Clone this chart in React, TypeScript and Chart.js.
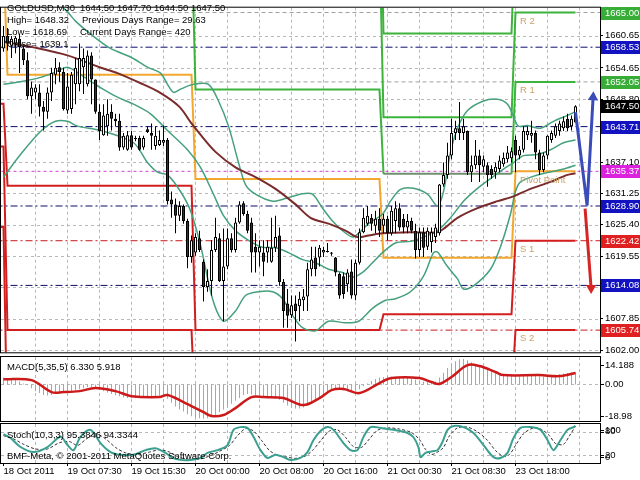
import React, { useEffect, useRef } from "react";
import { Chart, registerables } from "chart.js";

Chart.register(...registerables);

const FAMILY = '"Liberation Sans", Arial, sans-serif';
const FONT = `9.5px ${FAMILY}`;

// ---------- GOLDUSD M30 candles (bar 0 = 18 Oct 23:30) ----------
const opens = [1658.3,1660.6,1658.8,1659.2,1660.1,1658.3,1656.1,1649.4,1650.1,1650.1,
 1647.4,1646.5,1650.1,1653.4,1654.8,1653.9,1646.7,1647.0,1651.6,1651.6,
 1654.8,1651.6,1657.0,1652.5,1646.5,1642.1,1643.8,1646.5,1645.2,1644.8,
 1639.8,1639.4,1642.1,1641.6,1641.6,1639.8,1643.2,1642.5,1640.1,1640.3,
 1640.7,1641.2,1630.1,1629.2,1627.1,1628.9,1626.1,1619.4,1620.2,1622.9,
 1618.5,1613.8,1614.9,1620.7,1622.9,1614.9,1617.6,1622.9,1620.7,1625.8,
 1629.4,1627.4,1625.8,1621.3,1620.2,1620.2,1620.2,1618.5,1621.1,1623.4,
 1614.7,1610.7,1608.5,1610.7,1610.2,1611.3,1612.0,1617.1,1619.3,1619.3,
 1620.2,1620.5,1620.2,1619.3,1616.2,1615.8,1614.3,1616.7,1612.2,1618.3,
 1624.0,1625.6,1626.7,1625.2,1626.5,1625.2,1626.5,1623.8,1626.1,1628.5,
 1626.5,1624.9,1626.1,1624.3,1620.7,1624.0,1621.3,1622.2,1623.1,1623.8,
 1632.9,1634.7,1638.3,1642.5,1643.4,1642.5,1642.9,1635.2,1636.5,1638.3,
 1636.2,1636.5,1635.8,1635.2,1635.8,1636.7,1637.6,1637.8,1641.2,1638.3,
 1639.4,1642.1,1642.0,1642.5,1638.9,1635.6,1638.3,1641.2,1642.0,1642.9,
 1643.4,1645.2,1643.8,1644.5];
const highs = [1662.5,1662.1,1660.6,1660.6,1661.0,1658.8,1657.6,1652.1,1651.6,1651.6,
 1648.5,1651.0,1654.7,1656.5,1655.7,1654.7,1653.7,1653.9,1656.5,1659.2,
 1658.3,1657.9,1657.6,1652.5,1647.9,1647.9,1648.8,1647.9,1646.1,1646.1,
 1642.5,1642.9,1642.9,1642.0,1642.0,1642.0,1643.8,1644.3,1643.8,1643.0,
 1643.9,1641.6,1631.6,1630.3,1629.8,1629.2,1626.5,1623.4,1623.8,1624.3,
 1618.9,1617.1,1622.5,1626.7,1623.8,1624.7,1624.7,1623.8,1626.7,1629.8,
 1629.8,1628.0,1626.7,1623.8,1622.5,1622.5,1622.5,1626.7,1627.1,1624.9,
 1615.3,1613.4,1612.2,1612.2,1612.9,1613.4,1618.3,1621.3,1621.3,1621.6,
 1621.3,1622.0,1620.3,1619.4,1616.5,1616.5,1617.1,1618.9,1618.9,1624.7,
 1628.5,1628.9,1627.4,1628.0,1628.5,1627.4,1627.1,1628.9,1629.8,1629.4,
 1627.4,1627.4,1626.7,1625.6,1624.9,1624.9,1624.9,1624.9,1625.6,1633.0,
 1637.0,1640.7,1645.2,1644.8,1648.3,1645.2,1643.0,1638.3,1641.2,1639.4,
 1638.3,1637.0,1636.5,1637.0,1638.3,1638.9,1640.1,1639.8,1642.0,1640.1,
 1643.8,1643.8,1644.8,1643.0,1639.4,1638.9,1642.1,1643.0,1644.3,1644.8,
 1645.6,1646.1,1645.8,1647.7];
const lows = [1657.7,1657.9,1656.5,1657.4,1653.7,1655.2,1648.8,1646.1,1648.8,1645.6,
 1643.0,1645.2,1648.5,1651.6,1652.1,1646.7,1646.1,1646.1,1647.9,1650.3,
 1649.8,1651.2,1647.9,1646.1,1641.2,1642.0,1642.0,1643.0,1643.8,1639.2,
 1639.4,1639.2,1639.4,1641.0,1639.2,1639.4,1642.5,1639.4,1639.4,1640.1,
 1640.1,1629.2,1626.7,1623.8,1626.1,1625.6,1617.3,1618.3,1619.6,1620.3,
 1611.1,1612.9,1612.2,1620.3,1614.7,1607.4,1617.1,1620.2,1620.2,1625.6,
 1627.1,1623.8,1616.5,1616.5,1617.6,1615.8,1618.3,1618.3,1620.3,1614.0,
 1606.2,1606.2,1608.0,1603.6,1607.4,1609.3,1609.3,1615.8,1615.8,1617.6,
 1619.4,1620.2,1619.6,1615.8,1611.6,1611.6,1612.9,1611.6,1611.3,1618.0,
 1623.8,1625.2,1624.3,1623.8,1623.1,1623.8,1622.5,1623.4,1623.8,1624.3,
 1623.8,1623.8,1623.8,1619.1,1619.4,1619.4,1620.7,1620.2,1622.0,1623.4,
 1632.5,1634.0,1637.6,1641.2,1641.2,1641.2,1634.7,1633.4,1635.8,1633.4,
 1635.2,1632.5,1634.0,1634.0,1635.2,1636.2,1637.0,1637.0,1635.2,1637.6,
 1638.9,1641.2,1640.7,1637.6,1634.7,1635.2,1637.6,1640.7,1641.6,1642.0,
 1642.9,1642.9,1643.0,1644.5];
const closes = [1660.6,1659.2,1660.1,1660.3,1658.5,1656.1,1649.4,1651.0,1651.0,1647.4,
 1646.5,1650.1,1653.7,1654.7,1653.9,1647.0,1651.2,1653.4,1654.7,1656.5,
 1656.5,1657.0,1652.5,1646.5,1642.9,1645.8,1646.1,1645.2,1644.7,1639.8,
 1642.0,1642.1,1639.8,1641.4,1639.4,1641.6,1642.7,1642.0,1642.0,1641.2,
 1641.2,1629.8,1629.2,1627.1,1628.9,1626.1,1619.4,1622.5,1623.1,1620.7,
 1613.8,1614.9,1620.7,1623.1,1614.9,1617.6,1622.9,1620.7,1625.8,1629.2,
 1627.4,1624.3,1620.2,1620.2,1621.3,1618.5,1621.3,1621.1,1623.1,1614.7,
 1609.3,1608.4,1610.4,1609.3,1611.6,1612.0,1617.1,1618.9,1617.1,1621.1,
 1620.7,1620.3,1620.0,1616.5,1612.2,1612.5,1616.5,1612.2,1618.3,1624.0,
 1626.7,1627.1,1625.6,1626.5,1624.3,1626.5,1623.8,1628.0,1628.5,1624.9,
 1624.9,1626.1,1624.3,1620.7,1624.0,1621.1,1624.3,1624.0,1624.9,1632.9,
 1634.7,1638.3,1642.5,1643.4,1642.5,1643.8,1635.2,1636.5,1638.3,1636.5,
 1637.6,1634.7,1634.7,1636.2,1637.4,1637.9,1638.9,1639.1,1638.3,1639.4,
 1642.9,1642.9,1642.5,1638.9,1635.6,1638.3,1642.0,1642.5,1643.8,1644.3,
 1644.7,1643.4,1645.2,1647.5];

// ---------- overlays [bar, price] ----------
const maLine = [[0,1659.6],[1,1659.4],[7.5,1658.5],[16,1657.0],[24,1654.8],[28.5,1653.7],[34,1651.9],[39,1650.1],[44,1647.4],[47,1644.3],[49.25,1642.2],[53,1639.0],[58,1636.1],[63,1634.3],[68,1632.1],[73,1629.2],[76.75,1626.7],[81.25,1625.6],[85.5,1624.3],[88.5,1623.1],[91.25,1623.4],[94.75,1623.8],[101.75,1624.0],[108.5,1624.0],[110.5,1624.9],[113.5,1626.7],[118.5,1628.5],[123.5,1629.8],[127.5,1630.7],[131.75,1632.1],[136.75,1633.4],[141,1634.7],[143,1635.0]];
const bbUpper = [[0,1669.7],[11.75,1667.5],[15.5,1665.5],[18,1663.4],[21.75,1661.0],[26.75,1658.3],[31.75,1656.7],[36,1654.8],[39.25,1653.7],[41,1651.6],[42.5,1650.1],[44.25,1650.7],[47.5,1651.6],[51.25,1651.6],[53.75,1648.5],[56.25,1643.8],[58.75,1637.0],[60.5,1632.9],[63,1631.1],[67.25,1629.8],[70.5,1630.3],[74.75,1631.2],[77.25,1631.1],[79.75,1628.5],[82.25,1626.1],[84.75,1624.3],[87.25,1623.1],[88.75,1623.8],[91.25,1625.6],[94.75,1627.4],[96.75,1629.8],[99.25,1632.0],[102.5,1632.2],[106,1631.1],[108.5,1628.9],[110,1631.6],[111.75,1638.9],[113.5,1643.4],[116,1646.7],[120,1648.5],[123.5,1648.8],[126,1647.9],[127.5,1645.6],[128.75,1643.8],[131,1643.9],[134.25,1643.4],[137.5,1644.7],[141,1645.8],[143,1646.5]];
const bbMiddle = [[0,1651.6],[4.25,1652.1],[9.25,1652.9],[13,1653.9],[16,1654.8],[19.25,1653.4],[24.25,1651.0],[28.5,1649.2],[32.5,1647.9],[36.75,1646.1],[41,1643.0],[46,1639.4],[49.25,1636.1],[52.5,1631.1],[55,1627.1],[58,1624.3],[61.25,1622.5],[64.75,1621.2],[68,1621.1],[71.25,1620.2],[74.75,1618.9],[78,1618.3],[81.25,1617.1],[84.75,1616.5],[87.25,1615.6],[89.75,1616.5],[92.25,1618.3],[94.75,1620.2],[98,1622.0],[101.75,1622.3],[105,1623.1],[108.5,1624.3],[111.75,1626.7],[115,1629.8],[118.5,1632.2],[121.75,1634.0],[125,1635.8],[127.5,1637.0],[130,1638.3],[133.5,1638.5],[136.75,1639.4],[140,1640.7],[143,1641.2]];
const bbLower = [[0,1634.3],[4.25,1638.5],[9.25,1642.8],[13,1644.7],[16,1644.7],[18.5,1643.8],[24.25,1643.0],[32.5,1640.7],[36,1637.0],[38.5,1635.2],[41,1634.7],[44.25,1631.6],[46.75,1628.0],[49.25,1621.6],[52.25,1611.6],[55,1607.4],[58,1609.3],[60.5,1612.2],[63.75,1612.9],[67.25,1612.9],[69.75,1611.6],[72.25,1608.5],[74.75,1606.2],[78,1605.6],[81.25,1607.4],[85.5,1607.1],[88.75,1607.4],[92.25,1609.8],[95.5,1611.3],[98,1611.6],[101.75,1612.9],[105,1615.8],[107.5,1620.2],[108.5,1620.3],[111,1617.6],[113.5,1615.3],[115,1613.4],[117.5,1614.0],[121.75,1617.1],[124.25,1621.3],[126.75,1627.4],[128,1631.6],[129.25,1633.4],[133.5,1634.7],[140,1635.8],[143,1636.5]];

// ---------- daily pivot levels: [previous day, 19 Oct, 20 Oct, 21 Oct, 23 Oct] ----------
const dayStarts = [1, 48, 95, 128];
const dayEnds = [47, 94, 127, 143];
const r3Levels = [1710.0, 1727.9, 1695.6, 1661.1, 1681.68];
const r2Levels = [1700.0, 1701.0, 1678.85, 1645.45, 1665.00];
const r1Levels = [1690.0, 1680.3, 1650.66, 1634.9, 1652.05];
const pivotLevels = [1675.0, 1653.4, 1633.95, 1619.25, 1635.37];
const s1Levels = [1648.0, 1632.7, 1605.76, 1608.72, 1622.42];
const s2Levels = [1640.0, 1605.76, 1589.0, 1593.0, 1605.74];
const s3Levels = [1625.0, 1585.0, 1560.9, 1582.5, 1592.8];

const navyLevels = [1658.53, 1643.71, 1628.90, 1614.08];
const redLevels = [1622.42, 1605.74];
const pinkLevels = [1635.37];
const grayLevels = [1665.00, 1652.05];

const priceTicks = [1660.65, 1654.65, 1648.80, 1642.95, 1637.10, 1631.25, 1625.40, 1619.55, 1613.70, 1607.85, 1602.00];
const priceTagValues = [1665.00, 1658.53, 1652.05, 1647.50, 1643.71, 1635.37, 1628.90, 1622.42, 1614.08, 1605.74];
const priceTagColors = ["#37ad37", "#1212c0", "#37ad37", "#000000", "#1212c0", "#dd22dd", "#1212c0", "#e02020", "#1212c0", "#e02020"];
const pivotTagTexts = ["R 2", "R 1", "Pivot Point", "S 1", "S 2"];
const pivotTagValues = [1665.00, 1652.05, 1635.37, 1622.42, 1605.74];

const blueArrow = [[143, 1646.4], [145.9, 1629.0], [147.4, 1649.2]];
const redArrow = [[145.4, 1628.4], [146.2, 1620.5], [146.9, 1613.6]];

const headerLines = [
  ["GOLDUSD,M30", "1644.50 1647.70 1644.50 1647.50"],
  ["High= 1648.32", "Previous Days Range= 29.63"],
  ["Low= 1618.69", "Current Days Range= 420"],
  ["Close= 1639.1", ""],
];

// ---------- MACD(5,35,5) ----------
const macdMain = [3.5,3.2,3.0,2.5,1.5,0.5,-0.5,-2.0,-3.5,-4.5,
 -5.5,-5.8,-5.5,-5.0,-4.5,-4.5,-4.0,-3.5,-3.0,-2.5,
 -2.0,-1.5,-1.5,-2.0,-2.8,-3.5,-4.2,-5.0,-5.6,-6.2,
 -6.8,-7.0,-7.2,-7.2,-7.0,-6.8,-6.5,-6.2,-6.0,-5.8,
 -5.5,-7.5,-9.5,-11.5,-13.0,-14.0,-15.5,-16.5,-17.2,-17.5,
 -17.8,-17.5,-17.0,-16.0,-14.5,-13.0,-11.5,-10.0,-8.5,-7.0,
 -5.5,-5.0,-5.2,-5.8,-6.2,-6.5,-6.8,-7.0,-7.0,-8.0,
 -9.5,-11.0,-12.0,-12.5,-12.5,-12.0,-11.0,-9.5,-8.0,-6.5,
 -5.0,-3.5,-2.5,-2.0,-2.5,-3.0,-3.5,-3.8,-3.5,-2.5,
 -1.0,0.5,1.8,2.8,3.5,3.8,4.0,4.0,4.0,3.8,
 3.6,3.3,3.0,2.5,2.0,1.5,1.2,1.0,1.5,3.5,
 6.0,8.5,10.5,12.0,13.0,13.2,12.5,11.5,10.5,9.5,
 8.5,7.5,6.8,6.0,5.5,5.0,4.8,4.5,4.3,4.2,
 4.5,4.8,5.0,4.8,4.2,4.0,4.3,4.6,5.0,5.3,
 5.6,5.9,6.1,6.33];
const macdSignal = [[0,2.7],[7,2.2],[12,-4.0],[15,-4.0],[19,-3.5],[23,-1.9],[28,-3.5],[32,-6.1],[39,-6.6],[41,-5.5],[45,-9.2],[50,-14.4],[52,-16.4],[55,-15.9],[58,-12.3],[62,-6.6],[65,-6.6],[70,-7.1],[75,-10.7],[79,-7.1],[82,-3.0],[85,-2.4],[89,-4.5],[94,0.7],[97,3.3],[104,3.3],[107,1.2],[109,0.2],[112,3.8],[116,10.0],[119,9.5],[123,6.4],[125,4.8],[134,4.8],[139,4.3],[143,5.918]];

// ---------- Stoch(10,3,3) ----------
const stochMain = [[0,74],[1.75,64],[4.25,41],[7.5,28],[11,41],[14.25,67],[16,46],[17.5,33],[19.25,67],[21.75,85],[24.25,51],[26.75,28],[29.25,21],[32.5,21],[35.5,33],[38,38],[40.5,26],[42.25,13],[44.25,8],[46.75,8],[49.25,13],[51,26],[53.5,33],[56,46],[57.5,85],[59.25,92],[61,90],[62.5,67],[64.25,33],[66,13],[68,21],[70,15],[71.75,8],[74.25,13],[76,28],[77.5,59],[79.25,82],[81,92],[82.5,85],[85,51],[86.75,33],[88.5,33],[90,67],[91.75,92],[94.25,90],[97.5,85],[101,77],[102.5,66],[103.75,40],[104.25,15],[105.5,26],[107.25,30],[108.5,33],[109.75,54],[111,85],[112.5,95],[115,92],[117.5,77],[120,46],[122.5,15],[124.25,13],[126,26],[127.5,64],[129.25,90],[131.75,92],[134.25,85],[136,59],[137.5,33],[139.25,59],[141,85],[142.5,92],[143,95.38]];
const stochSignal = [[0,70],[2.5,62],[5,48],[8,36],[11,36],[14,52],[16.5,55],[18.5,45],[20.5,60],[23,75],[25.5,62],[28,40],[30.5,26],[33.5,22],[36.5,28],[39,34],[41.5,28],[43.5,16],[46,10],[49,10],[51.5,18],[54,30],[56.5,45],[58.5,70],[60.5,88],[62.5,82],[64.5,58],[66.5,32],[68.5,20],[70.5,16],[73,12],[75.5,18],[77.5,35],[79.5,60],[81.5,82],[83.5,85],[85.5,66],[87.5,42],[89.5,40],[91.5,62],[93.5,84],[96,90],[99,87],[102,78],[104,60],[105.5,35],[107,22],[108.5,28],[110,40],[111.5,70],[113.5,90],[116,92],[118.5,80],[121,58],[123,32],[125,17],[126.5,22],[128,45],[130,75],[132.5,90],[134.5,86],[136.5,70],[138,50],[140,48],[141.5,70],[143,94.33]];

const timeTickBars = [0, 16, 32, 48, 64, 80, 96, 112, 128];
const timeLabels = ["18 Oct 2011", "19 Oct 07:30", "19 Oct 15:30", "20 Oct 00:00", "20 Oct 08:00", "20 Oct 16:00", "21 Oct 00:30", "21 Oct 08:30", "23 Oct 18:00"];
const gridBars = [8, 16, 24, 32, 40, 48, 56, 64, 72, 80, 88, 96, 104, 112, 120, 128, 136, 144];

// ---------- styling ----------
const X_MIN = -0.625;
const X_MAX = 149.125;
const GRID = "#b8b8b8";
const GREEN = "#3cb43c";
const DIM_GREEN = "#6f8f6f";
const ORANGE = "#f2a72e";
const RED = "#d21e1e";
const BAND = "#45a07c";
const BEAR = "#213f21";

const pts = (arr: number[][]) => arr.map(([x, y]) => ({ x, y }));
const flat = (v: number) => [{ x: -2, y: v }, { x: 152, y: v }];
function stepLine(levels: number[]) {
  const out: any[] = [{ x: -1, y: levels[0] }, { x: 0, y: levels[0] }];
  dayStarts.forEach((s, d) => {
    out.push({ x: s, y: levels[d + 1] }, { x: dayEnds[d], y: levels[d + 1] });
  });
  return out;
}
const lineDs = (data: any[], color: string, width: number, order: number, extra: any = {}) => ({
  type: "line", data, borderColor: color, backgroundColor: color, borderWidth: width,
  pointRadius: 0, fill: false, tension: 0, order, ...extra,
});

function xScaleHidden() {
  return { type: "linear", min: X_MIN, max: X_MAX, offset: false, display: false };
}

function vGrid(ctx: any, a: any, xs: any) {
  ctx.beginPath();
  for (const b of gridBars) {
    const px = Math.floor(xs.getPixelForValue(b)) + 0.5;
    ctx.moveTo(px, a.top); ctx.lineTo(px, a.bottom);
  }
}
function frame(ctx: any, a: any) {
  ctx.save();
  ctx.setLineDash([]);
  ctx.strokeStyle = "#000"; ctx.lineWidth = 1;
  ctx.strokeRect(a.left - 0.5, a.top - 0.5, a.right - a.left + 1, a.bottom - a.top + 1);
  ctx.restore();
}
function rightLabel(ctx: any, a: any, text: string, y: number) {
  ctx.strokeStyle = "#000"; ctx.setLineDash([]); ctx.lineWidth = 1;
  ctx.beginPath(); ctx.moveTo(a.right + 1, Math.round(y) + 0.5); ctx.lineTo(a.right + 4, Math.round(y) + 0.5); ctx.stroke();
  ctx.fillStyle = "#000"; ctx.font = FONT; ctx.textBaseline = "middle"; ctx.textAlign = "left";
  ctx.fillText(text, a.right + 5, y);
}

const mainPlugin = {
  id: "mainDecor",
  beforeDatasetsDraw(chart: any) {
    const { ctx, chartArea: a, scales } = chart;
    ctx.save();
    ctx.strokeStyle = GRID; ctx.lineWidth = 1; ctx.setLineDash([3, 3]);
    vGrid(ctx, a, scales.x);
    for (const v of priceTicks) {
      const py = Math.round(scales.y.getPixelForValue(v)) + 0.5;
      ctx.moveTo(a.left, py); ctx.lineTo(a.right, py);
    }
    ctx.stroke();
    ctx.restore();
  },
  afterDatasetsDraw(chart: any) {
    const { ctx, scales } = chart;
    ctx.save();
    ctx.font = FONT; ctx.fillStyle = "#c9a36a"; ctx.textBaseline = "top"; ctx.textAlign = "left";
    const lx = scales.x.getPixelForValue(129.1);
    pivotTagTexts.forEach((t, i) => {
      ctx.fillText(t, lx, scales.y.getPixelForValue(pivotTagValues[i]) + 4);
    });
    ctx.restore();
  },
  afterDraw(chart: any) {
    const { ctx, chartArea: a, scales } = chart;
    frame(ctx, a);
    ctx.save();
    ctx.font = FONT; ctx.fillStyle = "#000"; ctx.textBaseline = "middle"; ctx.textAlign = "left";
    const rows = [8, 20, 32, 44];
    const secondX = [80, 82, 80, 80];
    headerLines.forEach((l, i) => {
      ctx.fillText(l[0], 7, rows[i]);
      if (l[1]) ctx.fillText(l[1], secondX[i], rows[i]);
    });
    priceTagValues.forEach((v, i) => {
      const y = Math.round(scales.y.getPixelForValue(v));
      ctx.fillStyle = priceTagColors[i];
      ctx.fillRect(a.right + 1, y - 6, 39, 13);
      ctx.fillStyle = "#fff";
      ctx.fillText(v.toFixed(2), a.right + 5, y + 0.5);
    });
    ctx.restore();
  },
};

function mainConfig(): any {
  const bodies = opens.map((o, i) => ({ x: i, y: [o, closes[i]] }));
  const wicks = highs.map((h, i) => ({ x: i, y: [lows[i], h] }));
  const bodyColors = opens.map((o, i) => (closes[i] >= o ? "#ffffff" : BEAR));
  const datasets: any[] = [];
  navyLevels.forEach((v) => datasets.push(lineDs(flat(v), "#0c0c70", 1, 9, { borderDash: [7, 3, 2, 3] })));
  redLevels.forEach((v) => datasets.push(lineDs(flat(v), "#c81c1c", 1, 9, { borderDash: [7, 3, 2, 3] })));
  pinkLevels.forEach((v) => datasets.push(lineDs(flat(v), "#d040d0", 1, 9, { borderDash: [3, 3] })));
  grayLevels.forEach((v) => datasets.push(lineDs(flat(v), "#a0a0a0", 1, 9, { borderDash: [4, 3] })));
  datasets.push(lineDs(stepLine(r3Levels), GREEN, 2, 7));
  datasets.push(lineDs(stepLine(r2Levels), GREEN, 2, 7));
  datasets.push(lineDs(stepLine(r1Levels), GREEN, 2, 7, {
    segment: {
      borderColor: (c: any) => (c.p0.parsed.x >= dayStarts[2] && c.p1.parsed.x <= dayEnds[2] ? DIM_GREEN : undefined),
    },
  }));
  [s1Levels, s2Levels, s3Levels].forEach((l) => datasets.push(lineDs(stepLine(l), RED, 2, 7)));
  datasets.push(lineDs(stepLine(pivotLevels), ORANGE, 2, 6));
  datasets.push(lineDs(pts(bbUpper), BAND, 1.5, 5, { tension: 0.3 }));
  datasets.push(lineDs(pts(bbMiddle), BAND, 1.5, 5, { tension: 0.3 }));
  datasets.push(lineDs(pts(bbLower), BAND, 1.5, 5, { tension: 0.3 }));
  datasets.push(lineDs(pts(maLine), "#7a2b2b", 2, 4, { tension: 0.3 }));
  datasets.push({
    type: "bar", data: wicks, backgroundColor: "#000", barThickness: 1, grouped: false,
    borderWidth: 0, inflateAmount: 0, order: 3,
  });
  datasets.push({
    type: "bar", data: bodies, backgroundColor: bodyColors, borderColor: "#000", borderWidth: 1,
    borderSkipped: false, barThickness: 3, grouped: false, inflateAmount: 0, minBarLength: 1, order: 2,
  });
  datasets.push(lineDs(pts(blueArrow), "#3a4cb8", 3, 0, {
    pointRadius: [0, 0, 6], pointStyle: "triangle", pointRotation: [0, 0, 3], pointBorderWidth: 0,
  }));
  datasets.push(lineDs(pts(redArrow), "#d42626", 3, 0, {
    pointRadius: [0, 0, 6], pointStyle: "triangle", pointRotation: [0, 0, 180], pointBorderWidth: 0,
  }));
  return {
    type: "bar",
    data: { datasets },
    options: {
      responsive: false, animation: false, devicePixelRatio: 1, events: [],
      layout: { padding: { left: 1, top: 1, right: 0, bottom: 5 }, autoPadding: false },
      plugins: { legend: { display: false }, tooltip: { enabled: false } },
      scales: {
        x: xScaleHidden(),
        y: {
          type: "linear", position: "right", min: 1601.6, max: 1665.9,
          afterBuildTicks: (s: any) => { s.ticks = priceTicks.map((v) => ({ value: v })); },
          afterFit: (s: any) => { s.width = 40; },
          ticks: {
            autoSkip: false, padding: 2, color: "#000",
            font: { family: FAMILY, size: 9.5 },
            callback: (v: any) => Number(v).toFixed(2),
          },
          grid: { display: true, drawOnChartArea: false, drawTicks: true, tickLength: 3, tickColor: "#000", color: "#000" },
          border: { display: false },
        },
      },
    },
    plugins: [mainPlugin],
  };
}

const macdPlugin = {
  id: "macdDecor",
  beforeDatasetsDraw(chart: any) {
    const { ctx, chartArea: a, scales } = chart;
    ctx.save();
    ctx.strokeStyle = GRID; ctx.lineWidth = 1; ctx.setLineDash([3, 3]);
    vGrid(ctx, a, scales.x);
    const z = Math.round(scales.y.getPixelForValue(0)) + 0.5;
    ctx.moveTo(a.left, z); ctx.lineTo(a.right, z);
    ctx.stroke();
    ctx.restore();
  },
  afterDraw(chart: any) {
    const { ctx, chartArea: a, scales } = chart;
    frame(ctx, a);
    ctx.save();
    ctx.font = FONT; ctx.fillStyle = "#000"; ctx.textBaseline = "middle"; ctx.textAlign = "left";
    ctx.fillText("MACD(5,35,5) 6.330 5.918", 7, a.top + 10);
    rightLabel(ctx, a, "14.188", a.top + 8);
    rightLabel(ctx, a, "0.00", scales.y.getPixelForValue(0));
    rightLabel(ctx, a, "-18.98", a.bottom - 5);
    ctx.restore();
  },
};

function macdConfig(): any {
  return {
    type: "bar",
    data: {
      datasets: [
        lineDs(pts(macdSignal), "#cc1a1a", 2.5, 0, { tension: 0.35 }),
        {
          type: "bar", data: macdMain.map((v, i) => ({ x: i, y: v })), backgroundColor: "#a6a6a6",
          barThickness: 1, grouped: false, borderWidth: 0, inflateAmount: 0, order: 1,
        },
      ],
    },
    options: {
      responsive: false, animation: false, devicePixelRatio: 1, events: [],
      layout: { padding: { left: 1, top: 1, right: 40, bottom: 1 }, autoPadding: false },
      plugins: { legend: { display: false }, tooltip: { enabled: false } },
      scales: {
        x: xScaleHidden(),
        y: { type: "linear", min: -18.98, max: 14.188, display: false },
      },
    },
    plugins: [macdPlugin],
  };
}

const stochPlugin = {
  id: "stochDecor",
  beforeDatasetsDraw(chart: any) {
    const { ctx, chartArea: a, scales } = chart;
    ctx.save();
    ctx.strokeStyle = GRID; ctx.lineWidth = 1; ctx.setLineDash([3, 3]);
    vGrid(ctx, a, scales.x);
    for (const v of [20, 80]) {
      const py = Math.round(scales.y.getPixelForValue(v)) + 0.5;
      ctx.moveTo(a.left, py); ctx.lineTo(a.right, py);
    }
    ctx.stroke();
    ctx.restore();
  },
  afterDraw(chart: any) {
    const { ctx, chartArea: a, scales } = chart;
    frame(ctx, a);
    ctx.save();
    ctx.font = FONT; ctx.fillStyle = "#000"; ctx.textBaseline = "middle"; ctx.textAlign = "left";
    ctx.fillText("Stoch(10,3,3) 95.3846 94.3344", 7, a.top + 11);
    ctx.fillText("BMF-Meta, \u00a9 2001-2011 MetaQuotes Software Corp.", 7, a.top + 32);
    rightLabel(ctx, a, "100", a.top + 6);
    rightLabel(ctx, a, "80", scales.y.getPixelForValue(80));
    rightLabel(ctx, a, "20", scales.y.getPixelForValue(20));
    rightLabel(ctx, a, "0", a.bottom - 6);
    ctx.restore();
  },
};

function stochConfig(): any {
  return {
    type: "line",
    data: {
      datasets: [
        lineDs(pts(stochMain), "#3a9f90", 2, 0, { tension: 0.3 }),
        lineDs(pts(stochSignal), "#303030", 1, 1, { tension: 0.3, borderDash: [3, 2] }),
      ],
    },
    options: {
      responsive: false, animation: false, devicePixelRatio: 1, events: [],
      layout: { padding: { left: 1, top: 1, right: 40, bottom: 0 }, autoPadding: false },
      plugins: { legend: { display: false }, tooltip: { enabled: false } },
      scales: {
        x: {
          type: "linear", min: X_MIN, max: X_MAX, offset: false,
          afterBuildTicks: (s: any) => { s.ticks = timeTickBars.map((v) => ({ value: v })); },
          afterFit: (s: any) => { s.height = 17; },
          ticks: {
            autoSkip: false, maxRotation: 0, minRotation: 0, align: "start", padding: 0, color: "#000",
            font: { family: FAMILY, size: 9.5 },
            callback: (v: any) => timeLabels[timeTickBars.indexOf(Number(v))] ?? "",
          },
          grid: { display: true, drawOnChartArea: false, drawTicks: true, tickLength: 3, tickColor: "#000", color: "#000" },
          border: { display: false },
        },
        y: { type: "linear", min: 0, max: 100, display: false },
      },
    },
    plugins: [stochPlugin],
  };
}

export default function App() {
  const mainRef = useRef<HTMLCanvasElement>(null);
  const macdRef = useRef<HTMLCanvasElement>(null);
  const stochRef = useRef<HTMLCanvasElement>(null);
  useEffect(() => {
    const charts = [
      new Chart(mainRef.current as HTMLCanvasElement, mainConfig()),
      new Chart(macdRef.current as HTMLCanvasElement, macdConfig()),
      new Chart(stochRef.current as HTMLCanvasElement, stochConfig()),
    ];
    return () => charts.forEach((c) => c.destroy());
  }, []);
  return (
    <div style={{ position: "fixed", left: 0, top: 0, width: 640, height: 480, background: "#fff", overflow: "hidden" }}>
      <canvas ref={mainRef} width={640} height={360} style={{ position: "absolute", left: 0, top: 0 }} />
      <canvas ref={macdRef} width={640} height={66} style={{ position: "absolute", left: 0, top: 356 }} />
      <canvas ref={stochRef} width={640} height={57} style={{ position: "absolute", left: 0, top: 423 }} />
    </div>
  );
}
